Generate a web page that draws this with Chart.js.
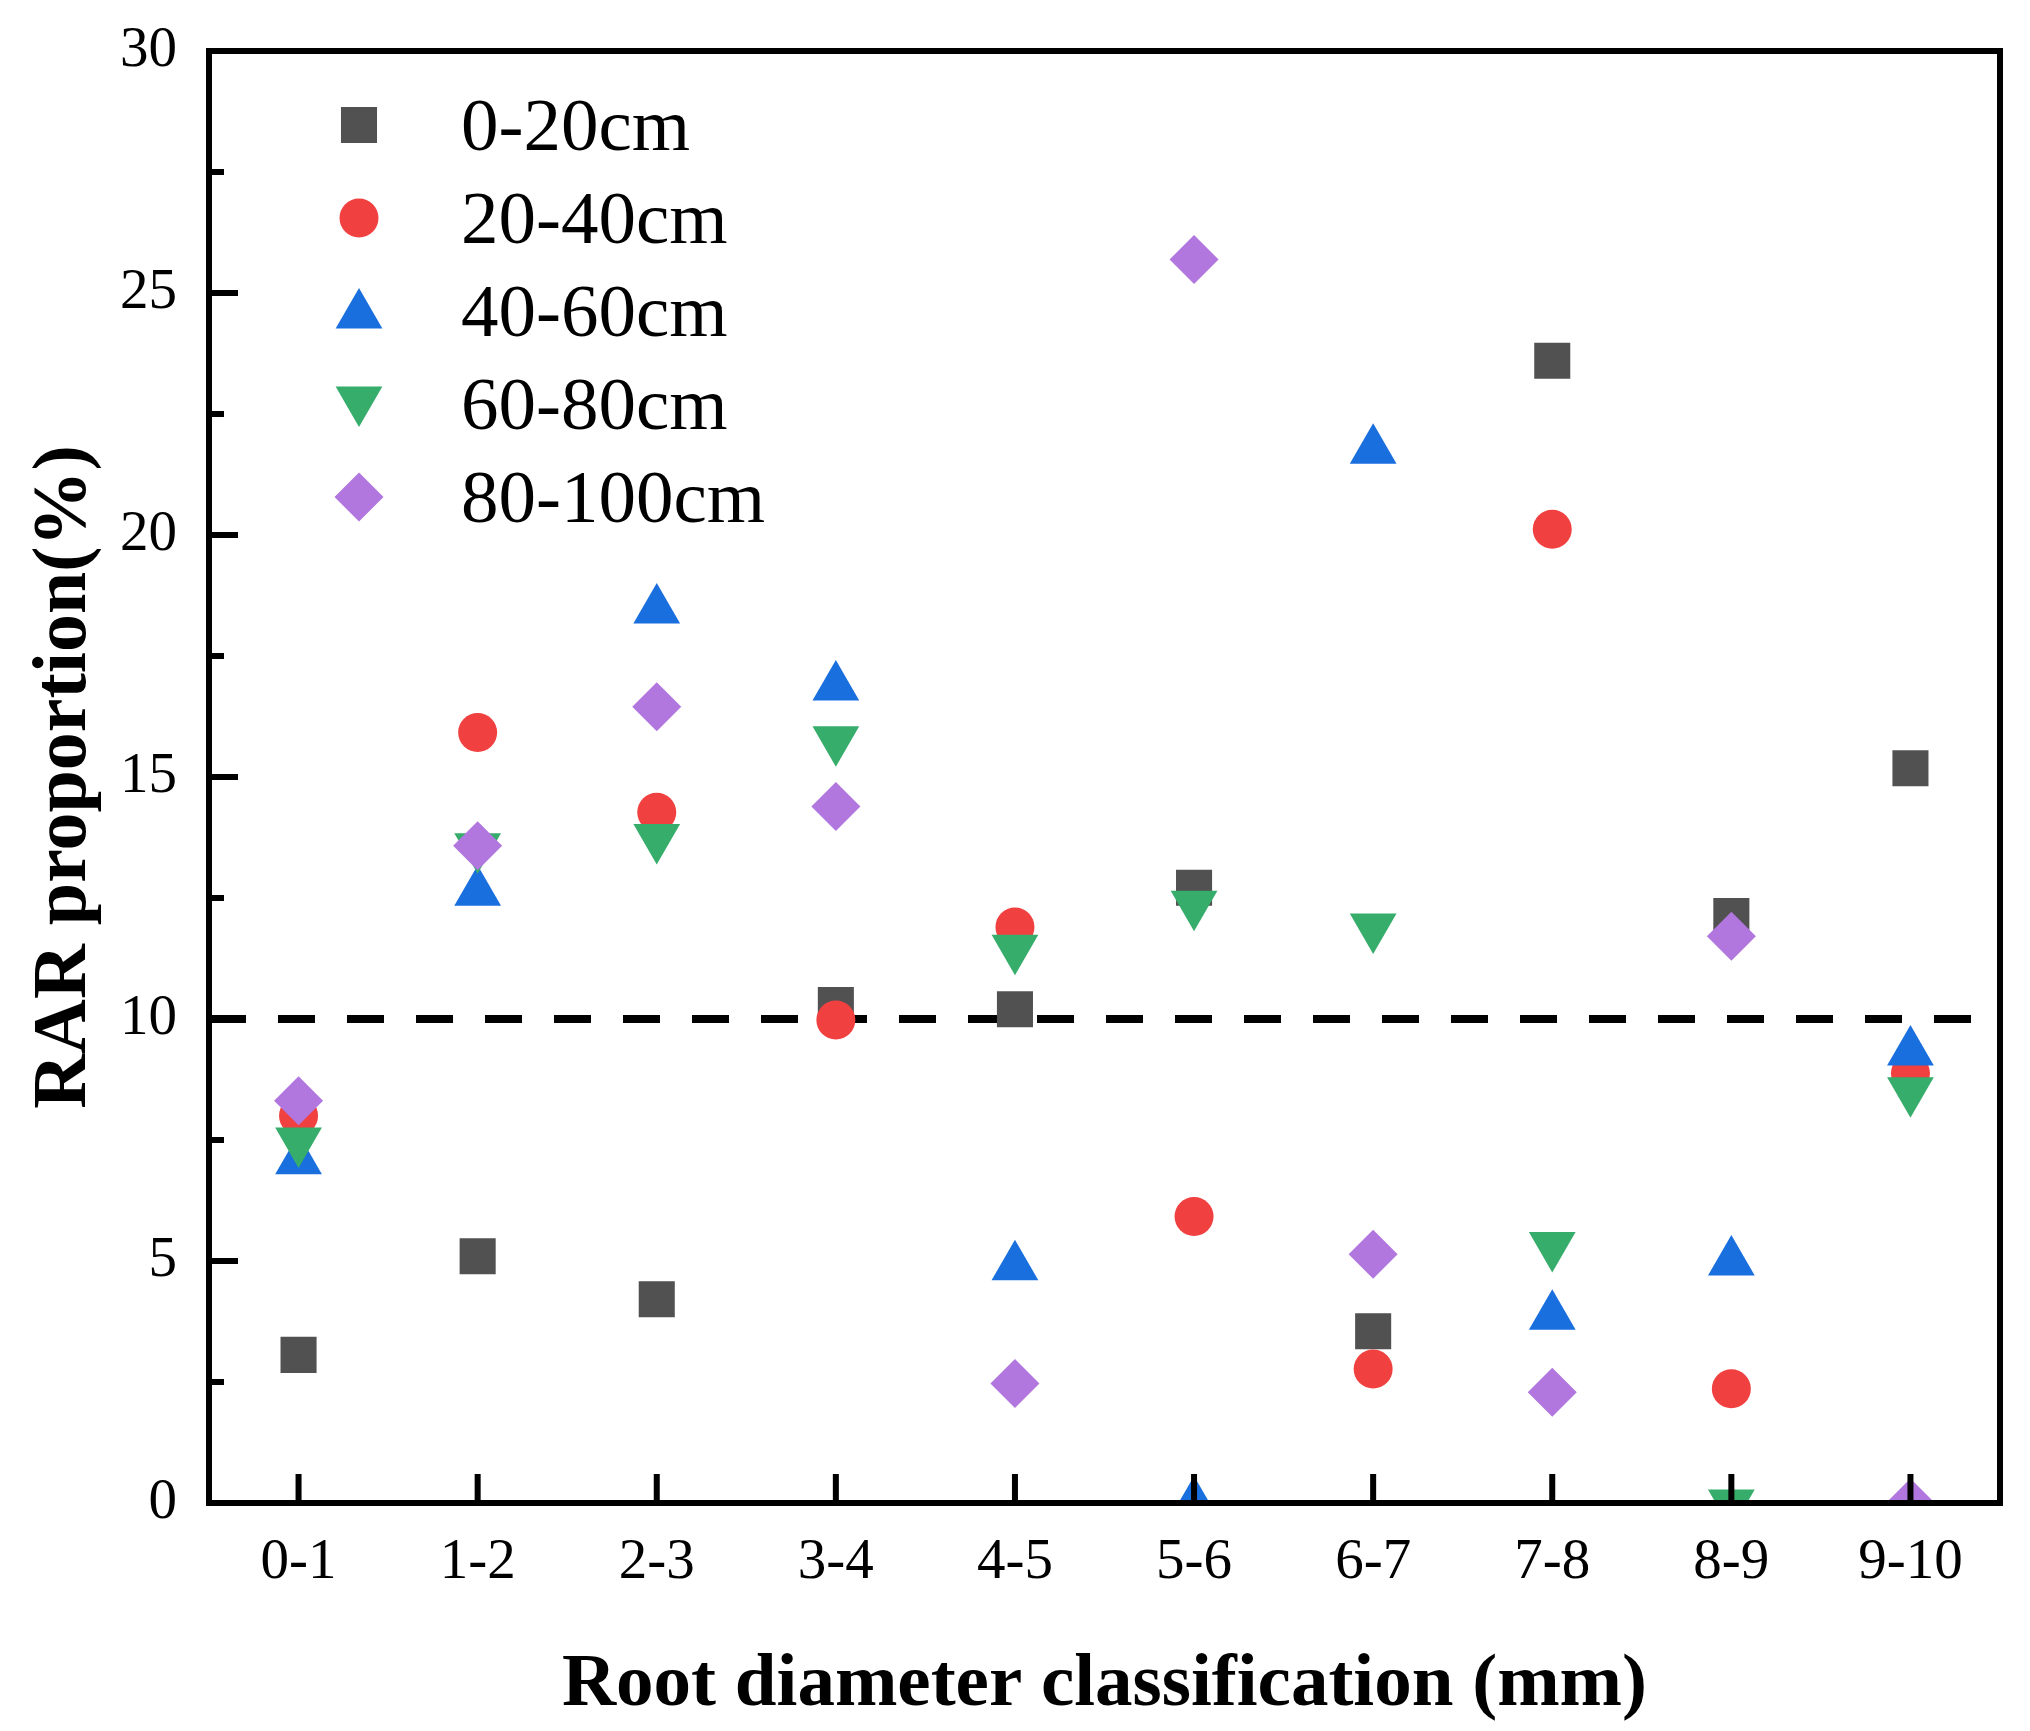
<!DOCTYPE html>
<html>
<head>
<meta charset="utf-8">
<script src="https://cdn.jsdelivr.net/npm/chart.js@4.4.1/dist/chart.umd.min.js"></script>
<style>
  html, body { margin: 0; padding: 0; background: #fff; }
  #wrap { width: 2030px; height: 1731px; }
</style>
</head>
<body>
<div id="wrap"><canvas id="myChart" width="2030" height="1731"></canvas></div>
<script>
// categories and values
const categories = ['0-1', '1-2', '2-3', '3-4', '4-5', '5-6', '6-7', '7-8', '8-9', '9-10'];
const depth0_20 = [3.06, 5.10, 4.21, 10.29, 10.20, 12.71, 3.55, 23.60, 12.13, 15.18];
const depth20_40 = [8.00, 15.92, 14.27, 9.98, 11.90, 5.92, 2.77, 20.12, 2.36, 8.88];
const depth40_60 = [7.07, 12.62, 18.45, 16.86, 4.88, 0, 21.75, 3.86, 4.98, 9.32];
const depth60_80 = [7.48, 13.56, 13.75, 15.77, 11.46, 12.37, 11.90, 5.32, 0, 8.52];
const depth80_100 = [8.31, 13.58, 16.45, 14.39, 2.47, 25.69, 5.14, 2.29, 11.71, 0];
const seriesNames = ['0-20cm', '20-40cm', '40-60cm', '60-80cm', '80-100cm'];
const threshold = 10;

const FONT = '"Liberation Serif", "Times New Roman", serif';
const colors = ['#515151', '#F14040', '#1A6FDF', '#37AD6B', '#B177DE'];
const styles = ['rect', 'circle', 'triangle', 'triangle', 'rectRot'];
const rotations = [0, 0, 0, 180, 0];
const radii = [25.5, 19.5, 27, 27, 24.5];
const seriesData = [depth0_20, depth20_40, depth40_60, depth60_80, depth80_100];

const datasets = seriesData.map((d, i) => ({
    label: seriesNames[i],
    data: d,
    showLine: false,
    pointStyle: styles[i],
    pointRotation: rotations[i],
    pointRadius: radii[i],
    pointHoverRadius: radii[i],
    pointBackgroundColor: colors[i],
    pointBorderWidth: 0,
    borderWidth: 0,
    order: 5 - i
}));

// frame, inward ticks, dashed reference line and legend
const decor = {
    id: 'decor',
    beforeDatasetsDraw(chart) {
        const {ctx, chartArea: a, scales: {y}} = chart;
        const yy = y.getPixelForValue(threshold);
        ctx.save();
        ctx.strokeStyle = '#000';
        ctx.lineWidth = 8;
        ctx.setLineDash([37, 32]);
        ctx.beginPath();
        ctx.moveTo(a.left, yy);
        ctx.lineTo(a.right, yy);
        ctx.stroke();
        ctx.restore();
    },
    afterDraw(chart) {
        const {ctx, chartArea: a, scales: {x, y}} = chart;
        ctx.save();
        ctx.strokeStyle = '#000';
        ctx.lineWidth = 6;
        ctx.strokeRect(a.left, a.top, a.right - a.left, a.bottom - a.top);
        ctx.beginPath();
        categories.forEach((c, i) => {
            const px = x.getPixelForValue(i);
            ctx.moveTo(px, a.bottom);
            ctx.lineTo(px, a.bottom - 29);
        });
        for (let v = 0; v <= 30; v += 2.5) {
            const py = y.getPixelForValue(v);
            const len = v % 5 === 0 ? 29 : 15;
            ctx.moveTo(a.left, py);
            ctx.lineTo(a.left + len, py);
        }
        ctx.stroke();

        // legend
        ctx.font = '75px ' + FONT;
        ctx.textAlign = 'left';
        ctx.textBaseline = 'middle';
        seriesNames.forEach((name, i) => {
            const ly = 125 + i * 93;
            const my = styles[i] === 'triangle' ? ly + (rotations[i] ? -4 : 4) : ly;
            ctx.fillStyle = colors[i];
            Chart.helpers.drawPoint(ctx, {
                pointStyle: styles[i],
                rotation: rotations[i],
                radius: radii[i],
                borderWidth: 0
            }, 359, my);
            ctx.fillStyle = '#000';
            ctx.fillText(name, 461, ly + 5);
        });
        ctx.restore();
    }
};

const config = {
    type: 'line',
    data: {
        labels: categories,
        datasets: datasets
    },
    options: {
        responsive: false,
        devicePixelRatio: 1,
        animation: false,
        events: [],
        layout: {
            padding: {top: 51, right: 30, left: 0, bottom: 0}
        },
        plugins: {
            legend: {display: false},
            tooltip: {enabled: false}
        },
        scales: {
            x: {
                type: 'category',
                offset: true,
                grid: {display: false, drawTicks: false},
                border: {display: false},
                ticks: {
                    color: '#000',
                    padding: 26,
                    maxRotation: 0,
                    font: {family: FONT, size: 57}
                },
                title: {
                    display: true,
                    text: 'Root diameter classification (mm)',
                    color: '#000',
                    padding: {top: 0, bottom: 0},
                    font: {family: FONT, size: 75, weight: 'bold'}
                },
                afterFit(scale) {
                    scale.height = 228;
                    scale.paddingLeft = 0;
                    scale.paddingRight = 0;
                }
            },
            y: {
                min: 0,
                max: 30,
                grid: {display: false, drawTicks: false},
                border: {display: false},
                ticks: {
                    stepSize: 5,
                    color: '#000',
                    padding: 32,
                    font: {family: FONT, size: 57}
                },
                title: {
                    display: true,
                    text: 'RAR proportion(%)',
                    color: '#000',
                    padding: {top: 20, bottom: 0},
                    font: {family: FONT, size: 76, weight: 'bold'}
                },
                afterFit(scale) {
                    scale.width = 209;
                    scale.paddingTop = 0;
                    scale.paddingBottom = 0;
                }
            }
        }
    },
    plugins: [decor]
};

const myChart = new Chart(
    document.getElementById('myChart'),
    config
);
</script>
</body>
</html>
